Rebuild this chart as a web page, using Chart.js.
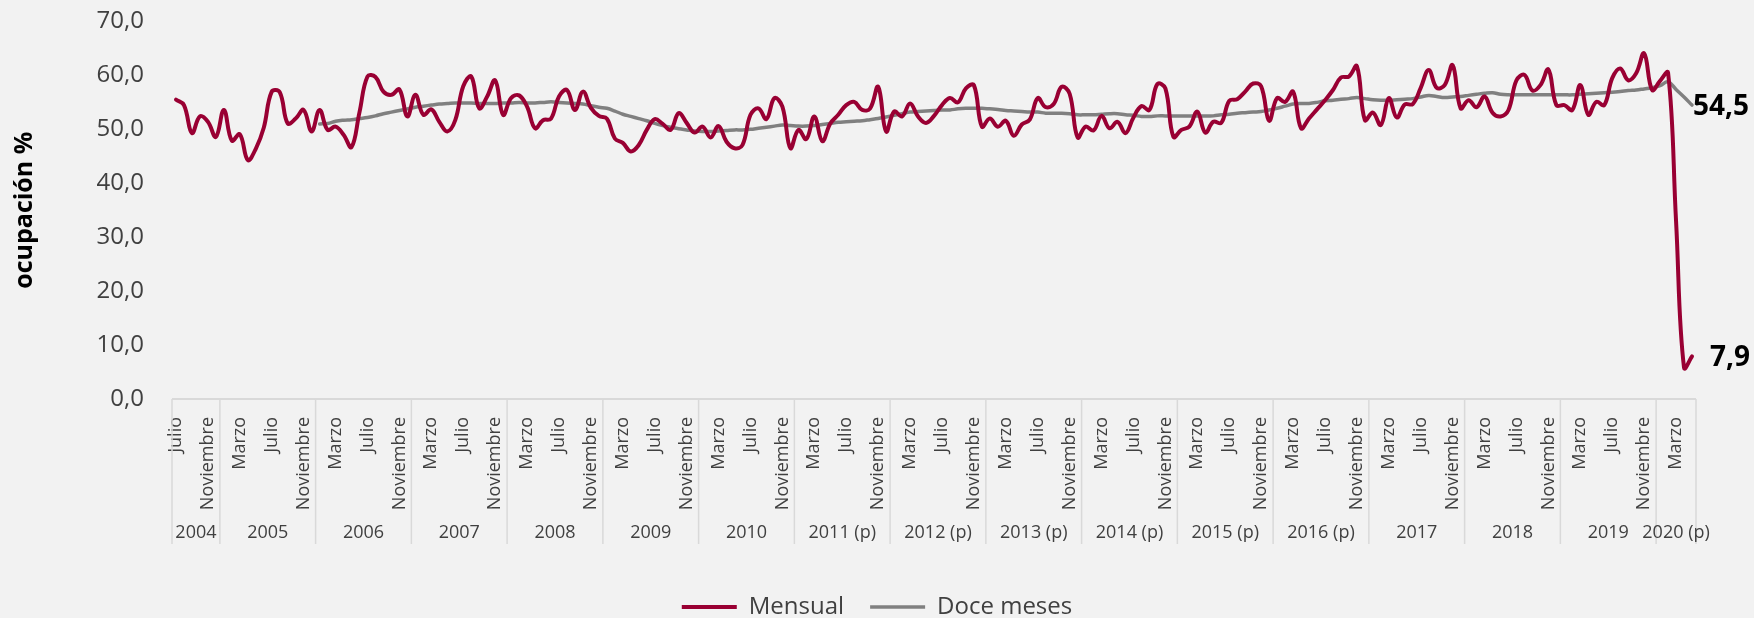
<!DOCTYPE html>
<html><head><meta charset="utf-8">
<script src="https://cdn.jsdelivr.net/npm/chart.js@4.4.1/dist/chart.umd.min.js"></script>
<style>html,body{margin:0;padding:0;background:#f2f2f2;}#wrap{width:1754px;height:618px;}</style>
</head><body><div id="wrap"><canvas id="c" width="1754" height="618"></canvas></div>
<script>
// ---- data ----
const monthNames = ['Enero','Febrero','Marzo','Abril','Mayo','Junio','Julio','Agosto','Septiembre','Octubre','Noviembre','Diciembre'];
const shownMonths = ['Marzo','Julio','Noviembre'];
const firstYear = 2004;
const firstMonthIndex = 6; // Julio
const yearLabels = ['2004','2005','2006','2007','2008','2009','2010','2011 (p)','2012 (p)','2013 (p)','2014 (p)','2015 (p)','2016 (p)','2017','2018','2019','2020 (p)'];

const mensual = [
 55.5,54.5,49.3,52.4,51.4,48.6,
 53.6,47.9,49.1,44.3,46.4,50.3,57.0,56.9,51.1,52.0,53.6,49.6,
 53.6,49.9,50.5,49.0,46.7,53.2,59.8,59.7,57.0,56.4,57.4,52.4,
 56.4,52.7,53.7,51.4,49.6,51.7,58.0,59.8,53.9,56.1,59.1,52.7,
 55.8,56.3,54.2,50.2,51.7,52.0,56.1,57.3,53.6,57.0,54.0,52.5,
 52.0,48.3,47.5,45.9,47.1,49.9,51.9,51.0,49.9,53.0,51.2,49.4,
 50.5,48.5,50.6,47.7,46.5,47.1,52.7,53.9,51.9,55.8,54.2,46.5,
 49.9,48.2,52.4,47.8,51.1,52.7,54.5,55.1,53.6,53.9,57.9,49.6,
 53.3,52.4,54.8,52.4,51.2,52.5,54.5,55.8,55.0,57.6,58.2,50.5,
 52.0,50.5,51.6,48.8,50.9,51.8,55.8,54.1,54.7,57.9,56.6,48.5,
 50.5,49.8,52.5,50.2,51.4,49.3,52.2,54.3,53.6,58.4,57.6,48.6,
 49.9,50.5,53.3,49.4,51.4,51.2,55.3,55.6,57.0,58.5,58.0,51.6,
 55.8,55.1,57.0,50.2,52.0,53.7,55.4,57.3,59.6,59.8,61.7,51.7,
 53.1,50.8,55.8,52.2,54.6,54.7,57.7,61.0,57.7,58.2,61.9,53.9,
 55.4,54.1,56.1,53.1,52.4,53.6,59.1,60.1,57.2,58.2,61.1,54.5,
 54.5,53.6,58.2,52.7,55.1,54.5,59.5,61.3,59.1,60.4,64.1,57.3,
 59.0,60.5,33.0,5.8,7.9
];

const doceMeses = [
 null,null,null,null,null,null,
 null,null,null,null,null,null,null,null,null,null,null,null,
 51.0,51.1,51.5,51.7,51.8,52.0,52.2,52.5,52.9,53.2,53.5,53.8,
 54.1,54.3,54.5,54.7,54.8,54.9,54.9,54.9,54.8,54.8,54.8,54.9,
 54.9,55.0,54.9,54.9,55.0,55.1,55.0,54.9,54.8,54.7,54.4,54.1,
 53.9,53.4,52.8,52.4,52.0,51.6,51.1,50.7,50.4,50.1,49.9,49.7,
 49.6,49.6,49.7,49.8,49.9,49.9,50.0,50.2,50.4,50.6,50.8,50.7,
 50.6,50.6,50.7,50.9,51.1,51.3,51.4,51.5,51.6,51.8,52.0,52.3,
 52.6,52.9,53.2,53.3,53.4,53.5,53.6,53.6,53.8,53.9,53.9,53.9,
 53.8,53.7,53.5,53.4,53.3,53.2,53.2,53.0,53.0,53.0,52.9,52.7,
 52.7,52.7,52.8,52.9,52.9,52.7,52.6,52.4,52.4,52.5,52.5,52.5,
 52.5,52.5,52.5,52.5,52.5,52.7,52.8,53.0,53.1,53.2,53.3,53.6,
 53.9,54.3,54.7,54.8,54.8,55.0,55.3,55.4,55.6,55.7,55.9,55.7,
 55.5,55.4,55.4,55.5,55.6,55.7,56.0,56.3,56.1,55.9,56.0,56.1,
 56.3,56.5,56.7,56.8,56.5,56.4,56.4,56.4,56.4,56.4,56.4,56.4,
 56.4,56.4,56.5,56.6,56.7,56.8,56.9,57.0,57.2,57.3,57.5,57.7,
 58.1,58.8,57.4,56.0,54.5
];

// category labels (month name per point) and year of each point
const categories = mensual.map((_, i) => monthNames[(firstMonthIndex + i) % 12]);
const pointYearIdx = mensual.map((_, i) => Math.floor((firstMonthIndex + i) / 12));

const fmt = v => v.toFixed(1).replace('.', ',');
const TEXT = '#404040';
const FONT = "'Open Sans','Noto Sans','DejaVu Sans',sans-serif";
Chart.defaults.font.family = FONT;

const bgPlugin = {
  id: 'bg',
  beforeDraw(chart) {
    const c = chart.ctx; c.save(); c.fillStyle = '#f2f2f2';
    c.fillRect(0, 0, chart.width, chart.height); c.restore();
  }
};

const axisPlugin = {
  id: 'multiAxis',
  afterDraw(chart) {
    const x = chart.scales.x, area = chart.chartArea, c = chart.ctx;
    const bottom = area.bottom;
    c.save();
    c.strokeStyle = '#d9d9d9'; c.lineWidth = 2;
    c.beginPath(); c.moveTo(area.left, bottom); c.lineTo(area.right, bottom); c.stroke();
    const bounds = [];
    for (let i = 0; i <= categories.length; i++) {
      if (i === 0) bounds.push({i, px: area.left});
      else if (i === categories.length) bounds.push({i, px: area.right});
      else if (pointYearIdx[i] !== pointYearIdx[i - 1])
        bounds.push({i, px: (x.getPixelForValue(i - 1) + x.getPixelForValue(i)) / 2});
    }
    c.lineWidth = 1.5;
    bounds.forEach(b => {
      c.beginPath(); c.moveTo(b.px, bottom); c.lineTo(b.px, bottom + 145); c.stroke();
    });
    c.fillStyle = TEXT; c.font = "18px " + FONT; c.textAlign = 'center'; c.textBaseline = 'middle';
    for (let k = 0; k < bounds.length - 1; k++) {
      const yi = pointYearIdx[bounds[k].i];
      c.fillText(yearLabels[yi], (bounds[k].px + bounds[k + 1].px) / 2, bottom + 134);
    }
    c.restore();
  }
};

const endLabelPlugin = {
  id: 'endLabels',
  afterDatasetsDraw(chart) {
    const c = chart.ctx; c.save();
    c.font = "bold 28px " + FONT; c.fillStyle = '#000'; c.textAlign = 'left'; c.textBaseline = 'middle';
    const last = mensual.length - 1;
    const p0 = chart.getDatasetMeta(0).data[last];
    const p1 = chart.getDatasetMeta(1).data[last];
    c.fillText(fmt(mensual[last]), p0.x + 18, p0.y + 2);
    c.fillText(fmt(doceMeses[last]), p1.x + 1, p1.y + 2);
    c.restore();
  }
};

const noLine = 'rgba(0,0,0,0)';

new Chart(document.getElementById('c'), {
  type: 'line',
  data: {
    labels: categories,
    datasets: [
      { label: 'Mensual', data: mensual, borderColor: '#990033', backgroundColor: '#990033',
        borderWidth: 4, borderCapStyle: 'round', borderJoinStyle: 'round',
        pointRadius: 0, pointStyle: 'line', tension: 0.4, fill: false },
      { label: 'Doce meses', data: doceMeses, borderColor: '#808080', backgroundColor: '#808080',
        borderWidth: 3.5, borderCapStyle: 'round', borderJoinStyle: 'round',
        pointRadius: 0, pointStyle: 'line', tension: 0.4, fill: false }
    ]
  },
  options: {
    responsive: false, animation: false, devicePixelRatio: 1,
    layout: { padding: { left: 0, right: 0, top: 21.5, bottom: -11 } },
    scales: {
      x: {
        offset: true,
        grid: { display: false, drawTicks: false }, border: { display: false },
        ticks: {
          autoSkip: false, maxRotation: 90, minRotation: 90, padding: 18,
          color: TEXT, font: { size: 18 },
          callback: function (v) { const n = this.getLabelForValue(v); return shownMonths.includes(n) ? n : ''; }
        },
        afterFit(s) { s.height = 170; }
      },
      y: {
        min: 0, max: 70,
        grid: { display: true, drawOnChartArea: false, drawTicks: true, tickLength: 28, color: noLine, tickColor: noLine },
        border: { display: false },
        ticks: { stepSize: 10, color: TEXT, font: { size: 24 }, padding: 0, callback: v => fmt(v) },
        title: { display: true, text: 'ocupación %', color: '#000', font: { size: 25, weight: 'bold' }, padding: { top: 10, bottom: 0 } },
        afterFit(s) { s.width = 172; }
      },
      y2: {
        position: 'right', display: true,
        grid: { display: false, drawTicks: false }, border: { display: false },
        ticks: { display: false },
        afterFit(s) { s.width = 58; }
      }
    },
    plugins: {
      legend: {
        position: 'bottom',
        labels: { usePointStyle: true, pointStyle: 'line', pointStyleWidth: 55, boxHeight: 4,
                  font: { size: 24 }, color: TEXT, padding: 26 }
      },
      tooltip: { enabled: false }
    }
  },
  plugins: [bgPlugin, axisPlugin, endLabelPlugin]
});
</script></body></html>
